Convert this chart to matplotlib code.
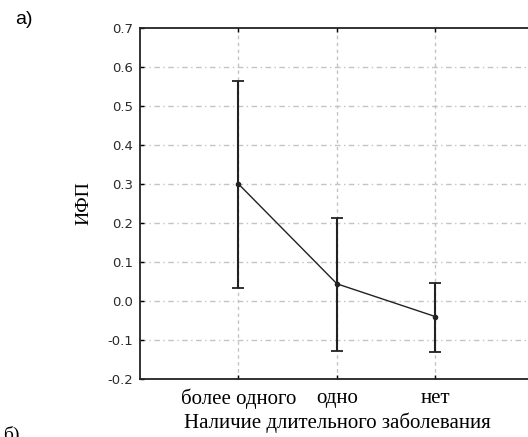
import matplotlib.pyplot as plt
import numpy as np

plt.rcParams["axes.unicode_minus"] = False

# data
categories = ["более одного", "одно", "нет"]
means = [0.300, 0.044, -0.040]
lower = [0.033, -0.127, -0.131]
upper = [0.564, 0.212, 0.047]
y_ticks = [-0.2, -0.1, 0.0, 0.1, 0.2, 0.3, 0.4, 0.5, 0.6, 0.7]

SERIF = "Liberation Serif"


def main() -> None:
    fig = plt.figure(figsize=(5.28, 4.37), dpi=100)
    ax = fig.add_axes([0.2652, 0.1327, 0.746, 0.8033])

    x = np.arange(1, len(categories) + 1)
    m = np.array(means)
    yerr = np.vstack([m - np.array(lower), np.array(upper) - m])

    ax.errorbar(x, m, yerr=yerr, fmt="none", ecolor="#222222", elinewidth=1.5,
                capsize=4, capthick=1.3, zorder=3)
    ax.plot(x, m, color="#222222", lw=1.0, marker="o", ms=3, zorder=4)

    ax.set_xlim(0, 4)
    ax.set_ylim(-0.2, 0.7)
    ax.set_xticks(x)
    ax.set_xticklabels(categories, fontfamily=SERIF, fontsize=15)
    ax.set_yticks(y_ticks)
    ax.set_yticklabels([f"{v:.1f}" for v in y_ticks], fontsize=9.5, color="#2a2a2a")
    ax.tick_params(axis="both", direction="in", length=3, width=1, top=True)
    ax.tick_params(axis="x", pad=7)
    ax.tick_params(axis="y", pad=5)

    for v in y_ticks[1:-1]:
        ax.axhline(v, color="#c4c4c4", lw=1, ls=(0, (4, 2.5, 1, 2.5)), zorder=1)
    for xi in x:
        ax.axvline(xi, color="#c4c4c4", lw=1, ls=(0, (2.5, 2.5)), zorder=1)

    for spine in ax.spines.values():
        spine.set_linewidth(1.3)
        spine.set_color("#222222")

    ax.set_ylabel("ИФП", fontfamily=SERIF, fontsize=14, labelpad=11)
    ax.set_xlabel("Наличие длительного заболевания", fontfamily=SERIF, fontsize=15, labelpad=2)

    fig.text(15 / 528, 1 - 11 / 437, "a)", fontfamily="Liberation Sans", fontsize=14, va="top")
    fig.text(3 / 528, 1 - 426 / 437, "б)", fontfamily=SERIF, fontsize=14, va="top")

    fig.savefig("out.png", dpi=100)
    plt.close(fig)


if __name__ == "__main__":
    main()
